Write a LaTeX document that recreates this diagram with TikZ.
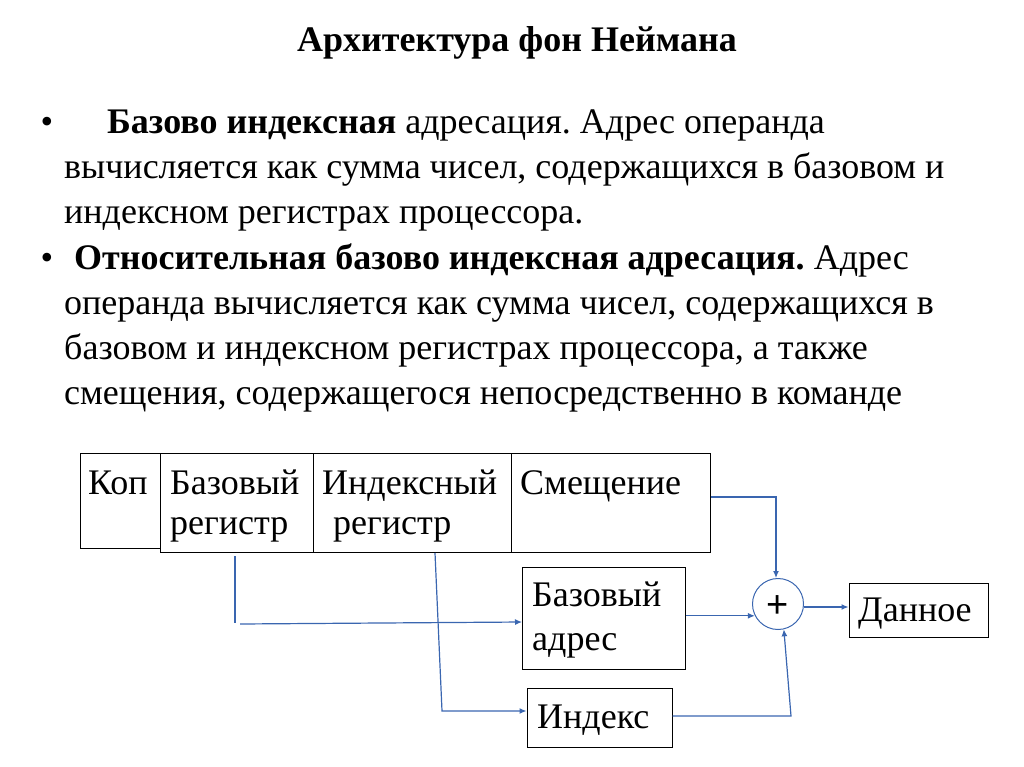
\documentclass[tikz,border=0pt]{standalone}
\usepackage{fontspec}
\setmainfont{Liberation Serif}
\newfontfamily\plusfont{Liberation Sans}
\usetikzlibrary{arrows.meta}
\definecolor{conn}{RGB}{58,102,176}
\tikzset{
  line/.style={anchor=base west, inner sep=0pt, font=\fontsize{36}{42}\selectfont},
  bul/.style={anchor=base, inner sep=0pt, font=\fontsize{36}{42}\selectfont},
  dtext/.style={anchor=base west, inner sep=0pt, font=\fontsize{36}{42}\selectfont},
  box/.style={draw=black, line width=1pt},
  wire/.style={draw=conn, line width=1.2pt},
  arr/.style={wire, -{Latex[length=7pt,width=6pt]}},
}
\begin{document}
\frenchspacing
\begin{tikzpicture}[x=1pt,y=-1pt]
\useasboundingbox (0,0) rectangle (1024,767);
% title
\node[anchor=base, inner sep=0pt, font=\bfseries\fontsize{36}{42}\selectfont] (title) at (517,52) {Архитектура фон Неймана};
% bullets and text
\node[bul] (b1) at (47,134) {•};
\node[line] (l1) at (107,134) {\textbf{Базово индексная} адресация. Адрес операнда};
\node[line] (l2) at (64,179) {вычисляется как сумма чисел, содержащихся в базовом и};
\node[line] (l3) at (64,223) {индексном регистрах процессора.};
\node[bul] (b2) at (47,269) {•};
\node[line] (l4) at (74,269) {\textbf{Относительная базово индексная адресация.} Адрес};
\node[line] (l5) at (64,314) {операнда вычисляется как сумма чисел, содержащихся в};
\node[line] (l6) at (64,359) {базовом и индексном регистрах процессора, а также};
\node[line] (l7) at (64,404) {смещения, содержащегося непосредственно в команде};
% instruction format
\node[box, minimum width=80pt, minimum height=95pt, inner sep=0pt] (kopbox) at (120,500.5) {};
\node[dtext] (kop) at (88,494) {Коп};
\node[box, minimum width=550pt, minimum height=99pt, inner sep=0pt] (fmt) at (435,502.5) {};
\draw[box] (313,453) -- (313,552);
\draw[box] (511,453) -- (511,552);
\node[dtext] (br1) at (170,494) {Базовый};
\node[dtext] (br2) at (170,534) {регистр};
\node[dtext] (ir1) at (322,494) {Индексный};
\node[dtext] (ir2) at (333,534) {регистр};
\node[dtext] (sm) at (520,494) {Смещение};
% base address
\node[box, minimum width=163pt, minimum height=102pt, inner sep=0pt] (ba) at (603.5,618) {};
\node[dtext] at (532,606) {Базовый};
\node[dtext] at (532,650) {адрес};
% index
\node[box, minimum width=145pt, minimum height=59pt, inner sep=0pt] (ix) at (599.5,717.5) {};
\node[dtext] at (537,728) {Индекс};
% sum
\node[draw=conn, line width=1pt, circle, minimum size=51pt, inner sep=0pt] (sum) at (778,604) {};
\node[inner sep=0pt, anchor=base, font=\plusfont\fontsize{38}{38}\selectfont] (plus) at (778,617) {+};
% result
\node[box, minimum width=139pt, minimum height=54pt, inner sep=0pt] (res) at (918.5,610) {};
\node[dtext] at (858,621) {Данное};
% connectors
\coordinate (smc) at (776,497);
\draw[arr] (fmt.east |- smc) -- (smc) -- (sum.north -| smc);
\coordinate (bv1) at (235,556);
\coordinate (bv2) at (235,623);
\draw[wire] (bv1) -- (bv2);
\coordinate (bh) at (240,624);
\coordinate (bh2) at (522,622);
\draw[arr] (bh) -- (bh2);
\coordinate (iv1) at (435,553);
\coordinate (iv2) at (442,711);
\draw[arr] (iv1) -- (iv2) -- (ix.west |- iv2);
\draw[arr] (ba.east |- sum.207) -- (sum.207);
\coordinate (ic) at (791,716);
\draw[arr] (ix.east |- ic) -- (ic) -- (sum.283);
\draw[arr] (sum.east |- 0,607) -- (res.west |- 0,607);
\end{tikzpicture}
\end{document}
